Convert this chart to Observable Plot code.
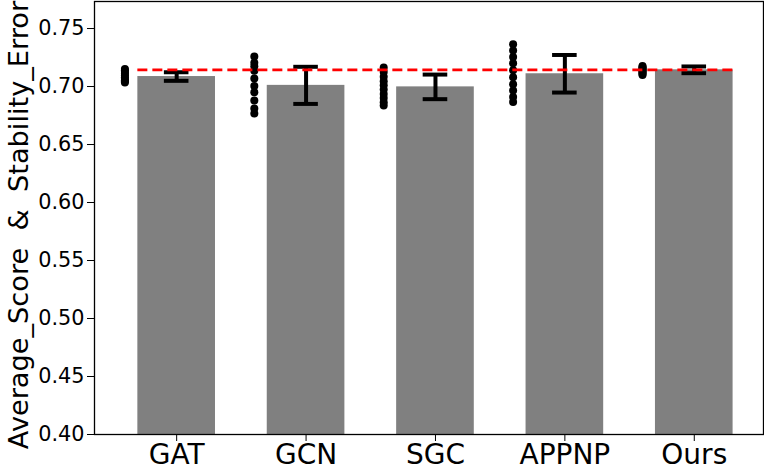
<!DOCTYPE html>
<html>
<head>
<meta charset="utf-8">
<script src="https://cdn.jsdelivr.net/npm/d3@7"></script>
<script src="https://cdn.jsdelivr.net/npm/@observablehq/plot@0.6"></script>
<style>
  html, body { margin: 0; padding: 0; background: white; }
</style>
</head>
<body>
<div id="chart"></div>
<script>
const categories = ["GAT", "GCN", "SGC", "APPNP", "Ours"];
const means = [0.7086, 0.7010, 0.6997, 0.7110, 0.7144];
const errors = [0.0037, 0.0160, 0.0106, 0.0162, 0.0029];
const runsGAT = [0.7152, 0.7140, 0.7125, 0.7110, 0.7095, 0.7080, 0.7065, 0.7055, 0.7045, 0.7034];
const runsGCN = [0.7259, 0.7205, 0.7175, 0.7135, 0.7070, 0.7005, 0.6950, 0.6880, 0.6810, 0.6767];
const runsSGC = [0.7164, 0.7125, 0.7085, 0.7045, 0.7010, 0.6975, 0.6935, 0.6900, 0.6865, 0.6836];
const runsAPPNP = [0.7364, 0.7310, 0.7255, 0.7200, 0.7140, 0.7080, 0.7020, 0.6965, 0.6910, 0.6866];
const runsOurs = [0.7177, 0.7168, 0.7160, 0.7152, 0.7144, 0.7136, 0.7128, 0.7118, 0.7108, 0.7099];
const yTicks = [0.40, 0.45, 0.50, 0.55, 0.60, 0.65, 0.70, 0.75];
const yLabel = "Average_Score  &  Stability_Error";

const runs = [runsGAT, runsGCN, runsSGC, runsAPPNP, runsOurs];
const n = categories.length;
const barHalf = 0.3, capHalf = 0.095, dotOffset = -0.4;

const bars = categories.map((c, i) => ({i, name: c, mean: means[i], err: errors[i]}));
const caps = bars.flatMap(b => [
  {i: b.i, y: b.mean - b.err},
  {i: b.i, y: b.mean + b.err}
]);
const dots = runs.flatMap((arr, i) => arr.map(v => ({i, v})));
const refValue = means[n - 1];

const chart = Plot.plot({
  width: 764,
  height: 471,
  marginTop: 1,
  marginBottom: 37,
  marginLeft: 94,
  marginRight: 1,
  style: {fontFamily: "DejaVu Sans", background: "white", color: "black"},
  x: {domain: [-0.635, 4.535]},
  y: {domain: [0.40, 0.7733]},
  marks: [
    Plot.rectY(bars, {x1: d => d.i - barHalf, x2: d => d.i + barHalf, y1: 0, y2: "mean", fill: "#808080", clip: true}),
    Plot.ruleX(bars, {x: "i", y1: d => d.mean - d.err, y2: d => d.mean + d.err, stroke: "black", strokeWidth: 4}),
    Plot.ruleY(caps, {y: "y", x1: d => d.i - capHalf, x2: d => d.i + capHalf, stroke: "black", strokeWidth: 4}),
    Plot.dot(dots, {x: d => d.i + dotOffset, y: "v", r: 4, fill: "black", stroke: "none"}),
    Plot.ruleY([refValue], {x1: -barHalf, x2: (n - 1) + barHalf, stroke: "red", strokeWidth: 2.8, strokeDasharray: "10,5"}),
    Plot.frame({stroke: "black", strokeWidth: 1.3}),
    Plot.axisX({ticks: d3.range(n), tickFormat: i => categories[i], fontSize: 28, tickSize: 7, tickPadding: 3, label: null}),
    Plot.axisY({ticks: yTicks, tickFormat: d3.format(".2f"), fontSize: 20.8, tickSize: 7, tickPadding: 3, label: null}),
    Plot.text([yLabel], {text: d => d, frameAnchor: "left", rotate: -90, dx: -75, dy: 7, fontSize: 27.2, textAnchor: "middle", fill: "black"})
  ]
});
document.getElementById("chart").appendChild(chart);
</script>
</body>
</html>
